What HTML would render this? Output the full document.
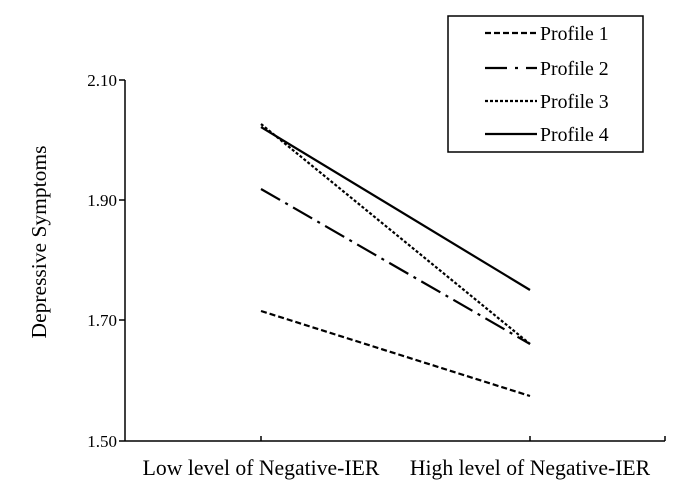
<!DOCTYPE html>
<html><head><style>body{margin:0;background:#fff}svg{display:block}</style></head><body>
<svg width="696" height="487" viewBox="0 0 696 487" xmlns="http://www.w3.org/2000/svg" font-family="Liberation Serif, serif" font-size="16">
<rect width="696" height="487" fill="#fff"/>
<g stroke="#000" stroke-width="1.5" fill="none">
<line x1="125" y1="80" x2="125" y2="441"/>
<line x1="125" y1="441" x2="665" y2="441"/>
<line x1="119" y1="80" x2="125" y2="80"/>
<line x1="119" y1="200" x2="125" y2="200"/>
<line x1="119" y1="320" x2="125" y2="320"/>
<line x1="119" y1="441" x2="125" y2="441"/>
<line x1="261" y1="436" x2="261" y2="441"/>
<line x1="530" y1="436" x2="530" y2="441"/>
<line x1="665" y1="436" x2="665" y2="441"/>
</g>
<g font-size="17" text-anchor="end">
<text x="117" y="86">2.10</text>
<text x="117" y="206">1.90</text>
<text x="117" y="326">1.70</text>
<text x="117" y="447">1.50</text>
</g>
<g font-size="21.7" text-anchor="middle">
<text x="261" y="475">Low level of Negative-IER</text>
<text x="530" y="475">High level of Negative-IER</text>
</g>
<text transform="translate(46,242) rotate(-90)" text-anchor="middle" font-size="21.5">Depressive Symptoms</text>
<g stroke="#000" stroke-width="2.2" fill="none">
<line x1="261" y1="311" x2="530" y2="396" stroke-dasharray="6,3"/>
<line x1="261" y1="189" x2="530" y2="344" stroke-dasharray="22,6,3,6"/>
<line x1="261" y1="124" x2="530" y2="344" stroke-dasharray="3,2"/>
<line x1="261" y1="127" x2="530" y2="290"/>
</g>
<rect x="448" y="16" width="195" height="136" fill="#fff" stroke="#000" stroke-width="1.5"/>
<g stroke="#000" stroke-width="2.2">
<line x1="485" y1="33" x2="537" y2="33" stroke-dasharray="6,3"/>
<line x1="485" y1="68" x2="537" y2="68" stroke-dasharray="22,8,3,8"/>
<line x1="485" y1="101" x2="537" y2="101" stroke-dasharray="3,2"/>
<line x1="485" y1="134" x2="537" y2="134"/>
</g>
<g font-size="19.8">
<text x="540" y="40">Profile 1</text>
<text x="540" y="75">Profile 2</text>
<text x="540" y="108">Profile 3</text>
<text x="540" y="141">Profile 4</text>
</g>
</svg>
</body></html>
